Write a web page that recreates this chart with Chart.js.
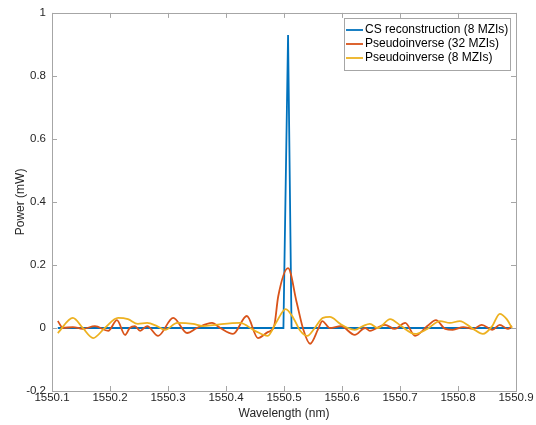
<!DOCTYPE html>
<html>
<head>
<meta charset="utf-8">
<script src="https://cdn.jsdelivr.net/npm/chart.js@4/dist/chart.umd.min.js"></script>
<style>
  html, body { margin: 0; padding: 0; background: #fff; }
  #wrap { width: 536px; height: 425px; }
</style>
</head>
<body>
<div id="wrap"><canvas id="specChart" width="536" height="425"></canvas></div>
<script>
// tick labels
const xTicks = [1550.1, 1550.2, 1550.3, 1550.4, 1550.5, 1550.6, 1550.7, 1550.8, 1550.9];
const yTicks = [-0.2, 0, 0.2, 0.4, 0.6, 0.8, 1];

// CS reconstruction (8 MZIs)
const csWl    = [1550.110, 1550.499, 1550.507, 1550.513, 1550.893];
const csPower = [0, 0, 0.93, 0, 0];

// Pseudoinverse (32 MZIs)
const pinv32Wl = [1550.110, 1550.119, 1550.136, 1550.153, 1550.174, 1550.197, 1550.212, 1550.226,
  1550.234, 1550.243, 1550.252, 1550.264, 1550.283, 1550.309, 1550.333, 1550.350, 1550.376,
  1550.390, 1550.412, 1550.436, 1550.455, 1550.472, 1550.483, 1550.490, 1550.507, 1550.522,
  1550.533, 1550.545, 1550.559, 1550.566, 1550.579, 1550.598, 1550.622, 1550.640, 1550.648,
  1550.674, 1550.691, 1550.709, 1550.726, 1550.747, 1550.762, 1550.778, 1550.791, 1550.809,
  1550.826, 1550.841, 1550.859, 1550.872, 1550.886, 1550.893];
const pinv32Power = [0.022, 0, 0.003, -0.003, 0.006, -0.009, 0.025, -0.022,
  0, 0.006, -0.009, 0.006, -0.025, 0.032, -0.016, 0, 0.016,
  0, -0.019, 0.038, -0.032, -0.013, 0.006, 0.1, 0.19, 0.08,
  -0.003, -0.05, -0.003, 0.022, 0, 0.006, -0.022, 0, -0.009,
  0.01, -0.003, 0.016, -0.025, 0.006, 0.025, -0.003, -0.006, 0.003,
  -0.003, 0.01, -0.006, 0.01, -0.003, 0.006];

// Pseudoinverse (8 MZIs)
const pinv8Wl = [1550.110, 1550.136, 1550.153, 1550.171, 1550.191, 1550.214, 1550.231, 1550.248,
  1550.264, 1550.281, 1550.295, 1550.316, 1550.343, 1550.360, 1550.381, 1550.424, 1550.450,
  1550.472, 1550.486, 1550.503, 1550.516, 1550.528, 1550.540, 1550.553, 1550.567, 1550.579,
  1550.597, 1550.610, 1550.622, 1550.636, 1550.648, 1550.662, 1550.683, 1550.702, 1550.726,
  1550.747, 1550.769, 1550.786, 1550.803, 1550.826, 1550.843, 1550.859, 1550.872, 1550.884,
  1550.893];
const pinv8Power = [-0.016, 0.032, 0, -0.032, 0, 0.032, 0.028, 0.013,
  0.016, 0.006, -0.006, 0.016, 0.013, 0.006, 0.01, 0.016, -0.009,
  -0.025, 0.016, 0.06, 0.032, -0.009, -0.025, 0, 0.032, 0.035,
  0.013, 0, -0.006, 0.006, 0.013, 0, 0.028, 0.006, -0.019,
  -0.003, 0.022, 0.016, 0.022, -0.003, -0.019, 0.006, 0.045, 0.028,
  0];

const toPoints = (xs, ys) => xs.map((x, i) => ({ x: x, y: ys[i] }));
const fontFam = '"Liberation Sans", Arial, Helvetica, sans-serif';

// box round the axes, inward ticks, and legend
const axesBox = {
    id: 'axesBox',
    afterDraw(chart) {
        const ctx = chart.ctx;
        const a = chart.chartArea;
        const x = chart.scales.x, y = chart.scales.y;
        ctx.save();
        ctx.strokeStyle = '#a6a6a6';
        ctx.lineWidth = 1;
        ctx.strokeRect(Math.round(a.left) + 0.5, Math.round(a.top) + 0.5,
            Math.round(a.width), Math.round(a.height));
        ctx.beginPath();
        x.ticks.forEach(t => {
            const px = Math.round(x.getPixelForValue(t.value)) + 0.5;
            ctx.moveTo(px, a.bottom); ctx.lineTo(px, a.bottom - 5);
            ctx.moveTo(px, a.top); ctx.lineTo(px, a.top + 5);
        });
        y.ticks.forEach(t => {
            const py = Math.round(y.getPixelForValue(t.value)) + 0.5;
            ctx.moveTo(a.left, py); ctx.lineTo(a.left + 5, py);
            ctx.moveTo(a.right, py); ctx.lineTo(a.right - 5, py);
        });
        ctx.stroke();

        // legend
        const right = Math.round(a.right) - 6, top = Math.round(a.top) + 5;
        const left = right - 166, rowH = 14;
        const sets = chart.data.datasets;
        ctx.fillStyle = '#fff';
        ctx.fillRect(left, top, right - left, sets.length * rowH + 10);
        ctx.strokeStyle = '#a6a6a6';
        ctx.strokeRect(left + 0.5, top + 0.5, right - left, sets.length * rowH + 10);
        ctx.font = '12px ' + fontFam;
        ctx.textBaseline = 'middle';
        ctx.textAlign = 'left';
        sets.forEach((ds, i) => {
            const cy = top + 12 + i * rowH;
            ctx.strokeStyle = ds.borderColor;
            ctx.lineWidth = 1.8;
            ctx.beginPath();
            ctx.moveTo(left + 2, cy); ctx.lineTo(left + 19, cy);
            ctx.stroke();
            ctx.fillStyle = '#000';
            ctx.fillText(ds.label, left + 21, cy);
        });
        ctx.restore();
    }
};

let ctx = document.getElementById('specChart').getContext('2d');
let chart = new Chart(ctx, {
    type: 'line',
    data: {
        datasets: [
            {
                label: 'CS reconstruction (8 MZIs)',
                data: toPoints(csWl, csPower),
                borderColor: '#0072BD',
                borderWidth: 1.8,
                tension: 0,
                order: 3
            },
            {
                label: 'Pseudoinverse (32 MZIs)',
                data: toPoints(pinv32Wl, pinv32Power),
                borderColor: '#D95319',
                borderWidth: 1.8,
                cubicInterpolationMode: 'monotone',
                order: 2
            },
            {
                label: 'Pseudoinverse (8 MZIs)',
                data: toPoints(pinv8Wl, pinv8Power),
                borderColor: '#EDB120',
                borderWidth: 1.8,
                cubicInterpolationMode: 'monotone',
                order: 1
            }
        ]
    },
    options: {
        responsive: false,
        animation: false,
        events: [],
        elements: { point: { radius: 0 } },
        layout: { padding: { left: 0, right: 20, top: 12, bottom: 0 } },
        plugins: { legend: { display: false }, tooltip: { enabled: false } },
        scales: {
            x: {
                type: 'linear',
                min: 1550.1,
                max: 1550.9,
                afterBuildTicks: s => { s.ticks = xTicks.map(v => ({ value: v })); },
                afterFit: s => { s.height = 34; },
                grid: { display: false, drawTicks: false },
                border: { display: false },
                ticks: {
                    padding: 0,
                    color: '#262626',
                    font: { family: fontFam, size: 11.5 },
                    maxRotation: 0,
                    autoSkip: false,
                    callback: v => v.toFixed(1)
                },
                title: {
                    display: true,
                    text: 'Wavelength (nm)',
                    color: '#262626',
                    font: { family: fontFam, size: 12 },
                    padding: { top: 0, bottom: 4 }
                }
            },
            y: {
                min: -0.2,
                max: 1,
                afterBuildTicks: s => { s.ticks = yTicks.map(v => ({ value: v })); },
                afterFit: s => { s.width = 52; },
                grid: { display: false, drawTicks: false },
                border: { display: false },
                ticks: {
                    padding: 6,
                    color: '#262626',
                    font: { family: fontFam, size: 11.5 },
                    callback: v => String(Math.round(v * 10) / 10)
                },
                title: {
                    display: true,
                    text: 'Power (mW)',
                    color: '#262626',
                    font: { family: fontFam, size: 12 },
                    padding: { top: 13, bottom: 0 }
                }
            }
        }
    },
    plugins: [axesBox]
});
</script>
</body>
</html>
